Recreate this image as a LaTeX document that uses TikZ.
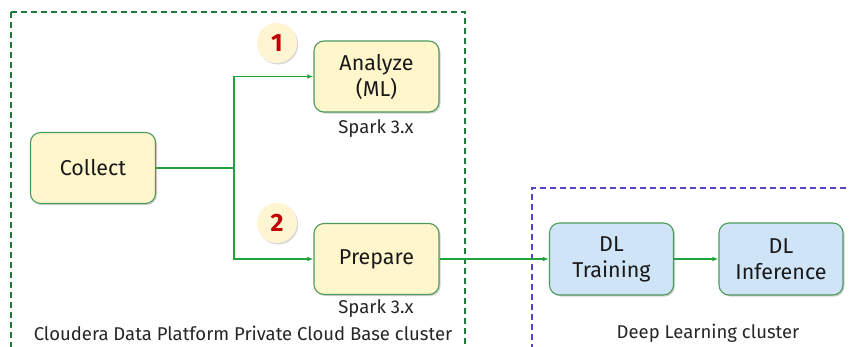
\documentclass[tikz,border=0pt]{standalone}
\usepackage{fontspec}
\setmainfont{Fira Sans}
\usetikzlibrary{shadows,arrows.meta}
\definecolor{boxfill}{HTML}{FFF6CC}
\definecolor{boxline}{HTML}{4C9A5C}
\definecolor{bluefill}{HTML}{CFE4F7}
\definecolor{arrowgreen}{HTML}{1FA33A}
\definecolor{clgreen}{HTML}{1E7A38}
\definecolor{clblue}{HTML}{5544CC}
\definecolor{numred}{HTML}{C00000}
\definecolor{circfill}{HTML}{FFF5D2}
\definecolor{labgray}{HTML}{262626}
\tikzset{
  procbox/.style={draw=boxline, line width=1.1pt, fill=boxfill, rounded corners=10pt,
    minimum width=125pt, minimum height=71pt, align=center, font=\fontsize{21.5}{26}\selectfont,
    text=black!90, drop shadow={opacity=0.35, shadow xshift=1.5pt, shadow yshift=-1.5pt}},
  dlbox/.style={procbox, fill=bluefill, minimum width=124pt, minimum height=72pt},
  numcirc/.style={circle, fill=circfill, minimum size=40pt, inner sep=0pt,
    font=\fontsize{25}{25}\selectfont\bfseries, text=numred,
    drop shadow={opacity=0.3, shadow xshift=1.2pt, shadow yshift=-1.5pt}},
  sublabel/.style={font=\fontsize{18.5}{22}\selectfont, text=labgray, inner sep=0pt},
  conn/.style={draw=arrowgreen, line width=1.3pt, -{Latex[length=6pt,width=4.5pt]}},
  plainconn/.style={draw=arrowgreen, line width=1.3pt},
  cluster/.style={line width=1.3pt, dash pattern=on 6pt off 4pt}
}
\begin{document}
\begin{tikzpicture}[x=1pt,y=-1pt]
\useasboundingbox (0,0) rectangle (850,346);
\clip (0,0) rectangle (850,346);
\fill[white] (0,0) rectangle (850,346);
% clusters
\draw[cluster, draw=clgreen] (11,12) -- (465,12) -- (465,360);
\draw[cluster, draw=clgreen] (11,12) -- (11,360);
\draw[cluster, draw=clblue] (532,360) -- (532,188) -- (860,188);
% nodes
\node[procbox] (collect) at (93,168) {Collect};
\node[procbox] (analyze) at (376.5,76.5) {Analyze\\(ML)};
\node[procbox] (prepare) at (376.5,259) {Prepare};
\node[dlbox] (train) at (611.5,259) {DL\\Training};
\node[dlbox] (infer) at (781,259) {DL\\Inference};
\node[numcirc] (n1) at (277,43) {1};
\node[numcirc] (n2) at (277,223) {2};
\node[sublabel] (s1) at (376,129) {Spark 3.x};
\node[sublabel] (s2) at (376,309) {Spark 3.x};
\node[sublabel] (c1) at (243,333) {Cloudera Data Platform Private Cloud Base cluster};
\node[sublabel] (c2) at (708,333) {Deep Learning cluster};
% connectors
\coordinate (j) at (234,168);
\draw[plainconn] (collect.east) -- (j);
\draw[conn] (j) |- (analyze.west);
\draw[conn] (j) |- (prepare.west);
\draw[conn] (prepare.east) -- (train.west);
\draw[conn] (train.east) -- (infer.west);
\end{tikzpicture}
\end{document}
